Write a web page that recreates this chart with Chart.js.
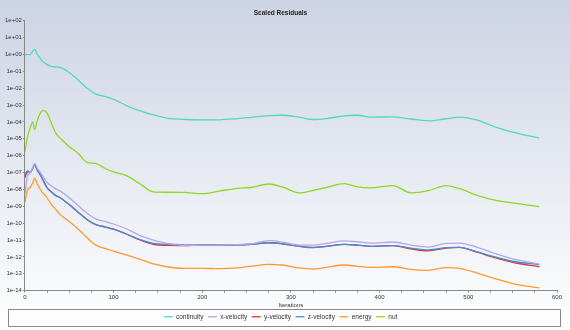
<!DOCTYPE html>
<html>
<head>
<meta charset="utf-8">
<script src="https://cdn.jsdelivr.net/npm/chart.js@4/dist/chart.umd.min.js"></script>
<style>
  html, body { margin: 0; padding: 0; }
  body { width: 570px; height: 330px; background: linear-gradient(to bottom, #ccd3e3 0%, #ffffff 100%); }
  #wrap { position: relative; width: 570px; height: 330px; }
</style>
</head>
<body>
<div id="wrap"><canvas id="myChart" width="570" height="330"></canvas></div>
<script>
const iterations = [0, 3, 6, 9, 11, 14, 17, 20, 25, 30, 35, 40, 50, 60, 70, 80, 90, 100, 115, 130,
  145, 160, 180, 200, 220, 240, 255, 275, 290, 310, 325, 340, 360, 375, 390, 415, 435, 455, 475, 490,
  510, 530, 550, 580];

const continuity = [1.0, 1.0, 1.0, 1.6, 2.1, 1.0, 0.63, 0.39, 0.25, 0.195, 0.18, 0.17, 0.087, 0.031, 0.0102, 0.0045, 0.0033, 0.0022, 9.1e-4, 4.5e-4,
  2.6e-4, 1.7e-4, 1.4e-4, 1.35e-4, 1.35e-4, 1.6e-4, 1.9e-4, 2.4e-4, 2.5e-4, 1.9e-4, 1.4e-4, 1.6e-4, 2.3e-4, 2.5e-4, 1.95e-4, 2.0e-4, 1.5e-4, 1.17e-4, 1.55e-4, 1.95e-4,
  1.3e-4, 5.2e-5, 2.5e-5, 1.1e-5];

const xVelocity = [5.0e-9, 6.3e-8, 1.0e-7, 2.0e-7, 3.5e-7, 1.8e-7, 1.1e-7, 6.3e-8, 2.6e-8, 1.6e-8, 1.07e-8, 7.9e-9, 3.2e-9, 1.1e-9, 4.0e-10, 1.8e-10, 1.26e-10, 8.9e-11, 4.5e-11, 1.8e-11,
  1.0e-11, 6.3e-12, 4.8e-12, 5.0e-12, 5.0e-12, 5.4e-12, 5.9e-12, 9.1e-12, 7.6e-12, 5.0e-12, 5.0e-12, 6.3e-12, 8.9e-12, 7.9e-12, 6.6e-12, 7.6e-12, 5.0e-12, 3.8e-12, 6.3e-12, 6.6e-12,
  3.7e-12, 1.6e-12, 7.6e-13, 3.8e-13];

const yVelocity = [5.0e-8, 1.1e-7, 1.0e-7, 1.8e-7, 3.0e-7, 1.4e-7, 7.9e-8, 4.0e-8, 1.3e-8, 7.1e-9, 4.3e-9, 3.2e-9, 1.26e-9, 4.5e-10, 1.66e-10, 8.1e-11, 6.0e-11, 4.4e-11, 2.2e-11, 1.0e-11,
  5.6e-12, 4.8e-12, 4.7e-12, 5.0e-12, 5.0e-12, 5.1e-12, 5.6e-12, 6.9e-12, 6.0e-12, 4.2e-12, 3.7e-12, 4.2e-12, 5.5e-12, 5.0e-12, 4.2e-12, 4.7e-12, 3.0e-12, 2.3e-12, 3.3e-12, 3.7e-12,
  1.9e-12, 8.9e-13, 4.8e-13, 2.6e-13];

const zVelocity = [7.9e-8, 1.26e-7, 1.0e-7, 1.8e-7, 3.0e-7, 1.4e-7, 7.9e-8, 4.0e-8, 1.3e-8, 7.1e-9, 4.3e-9, 3.2e-9, 1.26e-9, 4.5e-10, 1.66e-10, 8.1e-11, 6.0e-11, 4.4e-11, 2.2e-11, 1.05e-11,
  6.3e-12, 5.6e-12, 5.2e-12, 5.1e-12, 5.0e-12, 5.1e-12, 5.6e-12, 6.9e-12, 6.0e-12, 4.2e-12, 3.5e-12, 4.2e-12, 5.5e-12, 5.0e-12, 4.2e-12, 4.7e-12, 3.3e-12, 2.6e-12, 3.5e-12, 3.7e-12,
  2.0e-12, 1.0e-12, 5.5e-13, 3.5e-13];

const energy = [1.7e-9, 9.3e-9, 1.3e-8, 2.5e-8, 4.6e-8, 2.1e-8, 1.1e-8, 6.3e-9, 3.2e-9, 1.26e-9, 6.3e-10, 3.2e-10, 1.26e-10, 4.5e-11, 1.4e-11, 5.0e-12, 3.2e-12, 2.2e-12, 1.26e-12, 7.1e-13,
  3.8e-13, 2.6e-13, 2.1e-13, 2.1e-13, 2.0e-13, 2.2e-13, 2.8e-13, 3.6e-13, 3.3e-13, 2.2e-13, 1.9e-13, 2.4e-13, 3.3e-13, 2.75e-13, 2.4e-13, 2.6e-13, 1.8e-13, 1.6e-13, 2.3e-13, 2.1e-13,
  1.1e-13, 5.2e-14, 2.6e-14, 1.45e-14];

const nut = [1.7e-6, 1.26e-5, 4.4e-5, 1.0e-4, 3.5e-5, 1.2e-4, 3.0e-4, 4.7e-4, 3.5e-4, 8.3e-5, 2.1e-5, 1.1e-5, 3.4e-6, 1.4e-6, 4.0e-7, 3.5e-7, 1.8e-7, 1.1e-7, 6.3e-8, 2.1e-8,
  7.1e-9, 6.8e-9, 6.6e-9, 5.6e-9, 8.1e-9, 1.17e-8, 1.3e-8, 2.1e-8, 1.4e-8, 6.2e-9, 8.9e-9, 1.3e-8, 2.2e-8, 1.4e-8, 1.23e-8, 1.7e-8, 6.3e-9, 8.5e-9, 1.7e-8, 1.1e-8,
  4.5e-9, 2.3e-9, 1.6e-9, 9.5e-10];

const yTickValues = [1e2, 1e1, 1e0, 1e-1, 1e-2, 1e-3, 1e-4, 1e-5, 1e-6, 1e-7, 1e-8, 1e-9, 1e-10, 1e-11, 1e-12, 1e-13, 1e-14];

function points(values) {
    return iterations.map((it, i) => ({ x: it, y: values[i] }));
}

function expLabel(v) {
    // 1e+02 style
    const e = Math.round(Math.log10(v));
    const sign = e < 0 ? '-' : '+';
    const digits = String(Math.abs(e)).padStart(2, '0');
    return '1e' + sign + digits;
}

function series(label, values, color, order) {
    return {
        label: label,
        data: points(values),
        borderColor: color,
        backgroundColor: color,
        borderWidth: 1.3,
        pointRadius: 0,
        fill: false,
        order: order,
        cubicInterpolationMode: 'monotone'
    };
}

const legendFrame = {
    id: 'legendFrame',
    afterDraw(chart) {
        const l = chart.legend;
        const ctx = chart.ctx;
        ctx.save();
        ctx.strokeStyle = '#8a8a8a';
        ctx.lineWidth = 1;
        ctx.strokeRect(8.5, Math.round(l.top) + 0.5, 552, 17);
        ctx.restore();
    }
};

const font = "'Liberation Sans', Arial, sans-serif";
const ctx = document.getElementById('myChart').getContext('2d');

const myChart = new Chart(ctx, {
    type: 'line',
    data: {
        datasets: [
            series('continuity', continuity, '#4fd9bd', 1),
            series('x-velocity', xVelocity, '#b3a6ea', 2),
            series('y-velocity', yVelocity, '#e8322b', 4),
            series('z-velocity', zVelocity, '#3f8fd4', 3),
            series('energy', energy, '#ff992e', 5),
            series('nut', nut, '#8fd81f', 6)
        ]
    },
    options: {
        responsive: false,
        animation: false,
        layout: { padding: { left: 4, right: 13, top: 0, bottom: 0 } },
        plugins: {
            title: {
                display: true,
                text: 'Scaled Residuals',
                color: '#222',
                font: { family: font, size: 6.5, weight: 'bold' },
                padding: { top: 9, bottom: 4 }
            },
            legend: {
                position: 'bottom',
                labels: {
                    color: '#333',
                    font: { family: font, size: 6.5 },
                    usePointStyle: true,
                    pointStyle: 'line',
                    pointStyleWidth: 9,
                    boxHeight: 6,
                    padding: 4.5,
                    sort: (a, b) => a.datasetIndex - b.datasetIndex
                }
            },
            tooltip: { enabled: false }
        },
        scales: {
            x: {
                type: 'linear',
                min: 0,
                max: 600,
                border: { color: '#888', width: 1 },
                grid: { drawOnChartArea: false, drawTicks: true, tickLength: 2, color: '#888' },
                ticks: {
                    stepSize: 25,
                    autoSkip: false,
                    maxRotation: 0,
                    padding: 1,
                    color: '#333',
                    font: { family: font, size: 6 },
                    callback: v => (v % 100 === 0 ? String(v) : '')
                },
                title: {
                    display: true,
                    text: 'Iterations',
                    color: '#333',
                    font: { family: font, size: 6 },
                    padding: { top: 0, bottom: 0 }
                }
            },
            y: {
                type: 'logarithmic',
                min: 1e-14,
                max: 1e2,
                border: { color: '#888', width: 1 },
                grid: { drawOnChartArea: false, drawTicks: true, tickLength: 2, color: '#888' },
                afterBuildTicks: axis => {
                    axis.ticks = yTickValues.map(v => ({ value: v }));
                },
                ticks: {
                    autoSkip: false,
                    padding: 1,
                    color: '#333',
                    font: { family: font, size: 6 },
                    callback: v => expLabel(v)
                }
            }
        }
    },
    plugins: [legendFrame]
});
</script>
</body>
</html>
